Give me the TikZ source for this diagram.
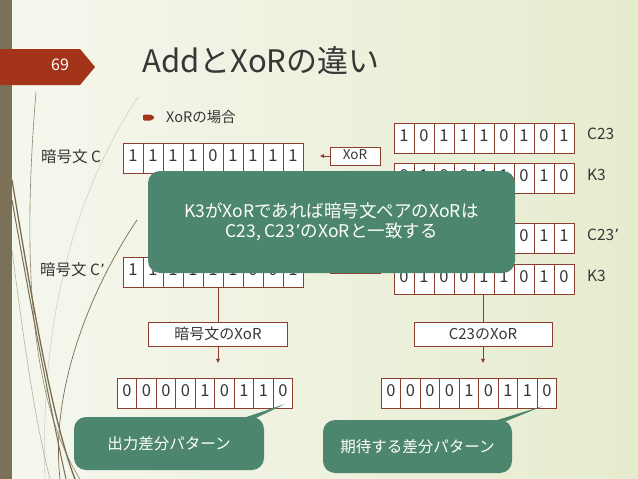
\documentclass[tikz,border=0pt]{standalone}
\usepackage{fontspec}
\setmainfont{Noto Sans CJK JP}
\usetikzlibrary{arrows.meta}
\definecolor{cellc}{RGB}{140,62,46}
\definecolor{callg}{RGB}{76,134,110}
\definecolor{txt}{RGB}{55,55,55}
\definecolor{stripc}{RGB}{123,113,88}
\definecolor{tabc}{RGB}{163,52,26}
\definecolor{bgL}{RGB}{245,247,238}
\definecolor{bgR}{RGB}{230,236,206}
\definecolor{wisp}{RGB}{120,108,80}
\newcommand\bitrow[5][20]{%
  \node[rowbox] (#2) at (#3,#4) {};
  \foreach \b [count=\i] in {#5} {
    \node[cell, minimum width=#1pt] (#2-\i) at ([xshift={(\i-5)*#1}]#2.center) {\b};
  }%
}
\begin{document}
\begin{tikzpicture}[x=1pt,y=-1pt,
  cell/.style={draw=cellc, line width=0.9pt, fill=white, minimum height=30pt,
    inner sep=0pt, font=\fontsize{16.5}{16.5}\selectfont, text=txt,
    text height=12pt, text depth=6pt},
  rowbox/.style={minimum width=180pt, minimum height=30pt, inner sep=0pt},
  xorbox/.style={draw=cellc, line width=0.9pt, fill=white, minimum width=50pt,
    minimum height=18pt, inner sep=0pt, font=\fontsize{13.5}{13.5}\selectfont, text=txt,
    text height=10pt, text depth=4pt},
  opbox/.style={draw=cellc, line width=0.9pt, fill=white, minimum width=139pt,
    minimum height=24pt, inner sep=0pt, font=\fontsize{15}{15}\selectfont, text=txt},
  lbl/.style={font=\fontsize{15.5}{15.5}\selectfont, text=txt, inner sep=0pt},
  callout/.style={fill=callg, rounded corners=12pt, text=white, inner sep=0pt,
    align=center},
  conn/.style={draw=cellc, line width=0.8pt},
  tip/.style={-{Triangle[length=4pt,width=4pt]}},
  wispline/.style={draw=wisp, line width=0.8pt},
]
\useasboundingbox (0,0) rectangle (638,479);
% background
\shade[left color=bgL, right color=bgR] (0,0) rectangle (638,479);
\fill[stripc] (0,0) rectangle (12,479);
% wisps
\draw[wispline, line width=0.6pt, opacity=0.8] (36,92) .. controls (22,260) and (30,400) .. (80,479);
\draw[wispline, line width=1.3pt] (12,180) .. controls (32,300) and (52,420) .. (75,479);
\draw[wispline, line width=1pt] (12,200) .. controls (35,330) and (55,430) .. (66,479);
\draw[wispline, line width=0.7pt] (137,220) .. controls (90,290) and (50,390) .. (60,479);
\draw[wispline, line width=0.5pt, opacity=0.3] (138,97) .. controls (70,200) and (40,330) .. (45,479);
\draw[wispline, line width=0.6pt, opacity=0.5] (12,250) .. controls (25,350) and (35,420) .. (50,479);
% page tab
\fill[tabc] (0,49) -- (80,49) -- (95,67) -- (80,85) -- (0,85) -- cycle;
\node[text=white, font=\fontsize{16}{16}\selectfont] (pg) at (60,65) {69};
% title
\node[anchor=base west, text=txt, font=\fontsize{31}{31}\selectfont, inner sep=0pt] (title) at (142,72) {AddとXoRの違い};
% bullet
\fill[tabc, rounded corners=1pt] (143,114.5) -- (151,114.5) -- (155,117.5) -- (151,120.5) -- (143,120.5) -- cycle;
\node[lbl, anchor=west, font=\fontsize{14.5}{14.5}\selectfont] (sub) at (166,117) {XoRの場合};
% left rows
\node[lbl, anchor=west] (lC) at (41,157) {暗号文 C};
\bitrow{C}{213}{158}{1,1,1,1,0,1,1,1,1}
\node[lbl, anchor=west] (lCp) at (40,270) {暗号文 C{\fontspec{DejaVu Sans}’}};
\bitrow{Cp}{213}{272}{1,1,1,1,1,1,0,0,1}
\node[xorbox] (x1) at (355,156) {XoR};
\node[xorbox] (x2) at (355,264) {XoR};
\draw[conn, tip, shorten >=17pt] (x1.west) -- (x1.west -| C.east);
\draw[conn, tip, shorten >=17pt] (x2.west) -- (x2.west -| Cp.east);
% right rows
\bitrow{C23}{484}{138}{1,0,1,1,1,0,1,0,1}
\bitrow{K3a}{484}{178}{0,1,0,0,1,1,0,1,0}
\bitrow{C23p}{484}{238}{1,0,1,1,0,0,0,1,1}
\bitrow{K3b}{484}{279}{0,1,0,0,1,1,0,1,0}
\node[lbl, anchor=west] (lC23) at (587,134) {C23};
\node[lbl, anchor=west] (lK3a) at (587,175) {K3};
\node[lbl, anchor=west] (lC23p) at (587,235) {C23{\fontspec{DejaVu Sans}’}};
\node[lbl, anchor=west] (lK3b) at (587,276) {K3};
% big callout
\node[callout, minimum width=367pt, minimum height=102pt,
  font=\fontsize{17.5}{20.5}\selectfont] (note) at (331.5,222)
  {K3がXoRであれば暗号文ペアのXoRは\\C23, C23{\fontspec{DejaVu Sans}’}のXoRと一致する};
% operation boxes
\node[opbox] (op1) at (218,334) {暗号文のXoR};
\node[opbox, minimum width=138pt] (op2) at (483,334) {C23のXoR};
\draw[conn] (op1.north |- Cp.south) -- (op1.north);
\draw[conn] (op2.north |- K3b.south) -- (op2.north);
% results
\bitrow[19.5]{R1}{205}{393}{0,0,0,0,1,0,1,1,0}
\bitrow[19.5]{R2}{469}{393}{0,0,0,0,1,0,1,1,0}
\draw[conn, tip, shorten >=15pt] (op1.south) -- (op1.south |- R1.north);
\draw[conn, tip, shorten >=15pt] (op2.south) -- (op2.south |- R2.north);
% bottom callouts
\node[callout, minimum width=190pt, minimum height=53pt,
  font=\fontsize{15.5}{15.5}\selectfont] (co1) at (169,443.5) {出力差分パターン};
\node[callout, minimum width=189pt, minimum height=53pt,
  font=\fontsize{15.5}{15.5}\selectfont] (co2) at (417.5,446.5) {期待する差分パターン};
\coordinate (p1) at (285,404);
\coordinate (p2) at (543,406);
\fill[callg] ([xshift=-26pt,yshift=-3pt]co1.north east) -- (p1) -- ([xshift=-12pt,yshift=-3pt]co1.north east) -- cycle;
\fill[callg] ([xshift=-24pt,yshift=-3pt]co2.north east) -- (p2) -- ([xshift=-10pt,yshift=-3pt]co2.north east) -- cycle;
\end{tikzpicture}
\end{document}
